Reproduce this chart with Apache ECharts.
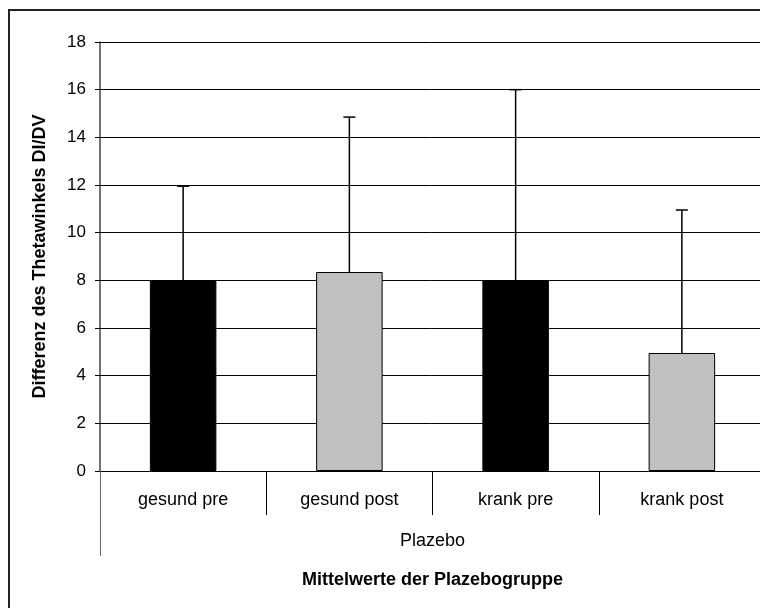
<!DOCTYPE html>
<html>
<head>
<meta charset="utf-8">
<script src="https://cdn.jsdelivr.net/npm/echarts@6/dist/echarts.min.js"></script>
<style>
  html, body { margin: 0; padding: 0; background: #fff; }
  #chart { width: 760px; height: 608px; }
</style>
</head>
<body>
<div id="chart"></div>
<script>
// Werte
var categories = ["gesund pre", "gesund post", "krank pre", "krank post"];
var groupLabels = ["Plazebo"];
var meanValues = [8.0, 8.35, 8.0, 4.95];
var errorValues = [3.95, 6.5, 8.0, 6.0];
var barColors = ["#000000", "#c0c0c0", "#000000", "#c0c0c0"];
var yTicks = { min: 0, max: 18, interval: 2 };

var font = "Liberation Sans";

var chart = echarts.init(document.getElementById("chart"));

chart.setOption({
  animation: false,
  backgroundColor: "#fff",
  // Plotfläche ragt rechts etwas über den Bildrand hinaus (wie im Original)
  grid: { left: 100, top: 42, bottom: 137, width: 665, outerBoundsMode: "none" },
  graphic: [
    {
      type: "rect",
      shape: { x: 9, y: 10, width: 900, height: 800 },
      style: { fill: "none", stroke: "#222", lineWidth: 2 },
      silent: true
    }
  ],
  xAxis: [
    {
      type: "category",
      data: categories,
      name: "Mittelwerte der Plazebogruppe",
      nameLocation: "middle",
      nameGap: 100,
      nameTextStyle: { fontFamily: font, fontSize: 18, fontWeight: "bold", color: "#000" },
      axisLine: { lineStyle: { color: "#000", width: 1 } },
      axisTick: { show: true, length: 44, interval: 0, lineStyle: { color: "#000" } },
      axisLabel: { margin: 20, interval: 0, fontFamily: font, fontSize: 18, color: "#000" }
    },
    {
      type: "category",
      position: "bottom",
      data: groupLabels,
      axisLine: { show: false },
      axisTick: { show: true, length: 85, lineStyle: { color: "#666" } },
      axisLabel: { margin: 61, fontFamily: font, fontSize: 18, color: "#000" }
    }
  ],
  yAxis: {
    type: "value",
    min: yTicks.min,
    max: yTicks.max,
    interval: yTicks.interval,
    name: "Differenz des Thetawinkels DI/DV",
    nameLocation: "middle",
    nameGap: 51,
    nameTextStyle: { fontFamily: font, fontSize: 18, fontWeight: "bold", color: "#000" },
    axisLine: { show: true, lineStyle: { color: "#444", width: 1.5 } },
    axisTick: { show: true, length: 5, lineStyle: { color: "#000" } },
    axisLabel: { margin: 14, fontFamily: font, fontSize: 17, color: "#000" },
    splitLine: { lineStyle: { color: "#000", width: 1 } }
  },
  series: [
    {
      type: "bar",
      xAxisIndex: 0,
      barWidth: "40%",
      data: meanValues.map(function (v, i) {
        return { value: v, itemStyle: { color: barColors[i] } };
      }),
      itemStyle: { borderColor: "#000", borderWidth: 1 }
    },
    {
      type: "custom",
      xAxisIndex: 0,
      z: 5,
      data: meanValues.map(function (v, i) { return [i, v, v + errorValues[i]]; }),
      renderItem: function (params, api) {
        var base = api.coord([api.value(0), api.value(1)]);
        var top = api.coord([api.value(0), api.value(2)]);
        var cap = 6;
        return {
          type: "group",
          children: [
            {
              type: "line",
              shape: { x1: base[0], y1: base[1], x2: top[0], y2: top[1] },
              style: { stroke: "#000", lineWidth: 1.5 }
            },
            {
              type: "line",
              shape: { x1: top[0] - cap, y1: top[1], x2: top[0] + cap, y2: top[1] },
              style: { stroke: "#000", lineWidth: 1.5 }
            }
          ]
        };
      }
    }
  ]
});
</script>
</body>
</html>
